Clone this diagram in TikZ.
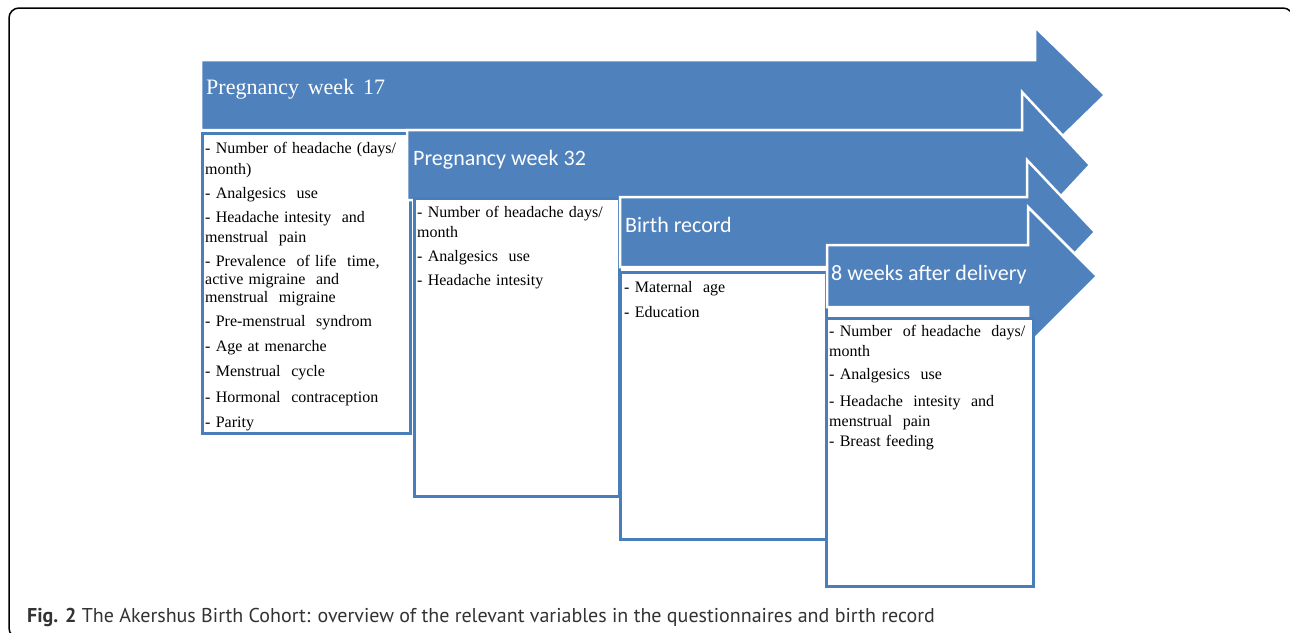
\documentclass[tikz,border=0pt]{standalone}
\usepackage{fontspec}
\setmainfont{Liberation Serif}
\newfontfamily\titlefont{Carlito}
\newfontfamily\capfont{PT Sans}
\definecolor{arrowblue}{HTML}{4F81BD}
\definecolor{boxblue}{HTML}{4A7EBB}
\definecolor{captext}{HTML}{333333}
\newcommand\myitemfont{\fontsize{16}{19}\selectfont\spaceskip=0.33em plus 0.1em\relax}
\newcommand\myserifttl{\fontsize{22}{26}\selectfont\spaceskip=0.4em\relax}
\tikzset{
  arrowshape/.style={fill=arrowblue, draw=white, line width=2.5pt, line join=miter},
  box/.style={draw=boxblue, line width=3pt, fill=white, anchor=north west, inner sep=0pt},
  item/.style={anchor=base west, inner sep=0pt, font=\myitemfont},
  ttl/.style={anchor=base west, inner sep=0pt, text=white, font=\titlefont\fontsize{22}{26}\selectfont},
  ttlserif/.style={anchor=base west, inner sep=0pt, text=white, font=\myserifttl},
  frame/.style={draw=black, line width=1.5pt, rounded corners=10pt},
}
\begin{document}
\begin{tikzpicture}[x=1pt,y=-1pt]
\useasboundingbox (0,0) rectangle (1290,632);
\clip (0,0) rectangle (1290,632);
\fill[white] (0,0) rectangle (1290,632);
\draw[frame] (9,8) rectangle (1293,638);

% arrow 1
\draw[arrowshape] (201,60) -- (1035,60) -- (1035,27) -- (1105,95) -- (1035,163) -- (1035,130) -- (201,130) -- cycle;
\node[ttlserif] (a1) at (206,94) {Pregnancy week 17};
\node[box, minimum width=208pt, minimum height=300pt] (b1) at (201,132) {};
\node[item] (t1a) at (205,153) {- Number of headache (days/};
\node[item] (t1b) at (205,174) {month)};
\node[item] (t1c) at (205,198) {- Analgesics \ use};
\node[item] (t1d) at (205,222) {- Headache intesity \ and};
\node[item] (t1e) at (205,242) {menstrual \ pain};
\node[item] (t1f) at (205,266) {- Prevalence \ of life \ time,};
\node[item] (t1g) at (205,284) {active migraine \ and};
\node[item] (t1h) at (205,302) {menstrual \ migraine};
\node[item] (t1i) at (205,326) {- Pre-menstrual \ syndrom};
\node[item] (t1j) at (205,351) {- Age at menarche};
\node[item] (t1k) at (205,376) {- Menstrual \ cycle};
\node[item] (t1l) at (205,402) {- Hormonal \ contraception};
\node[item] (t1m) at (205,427) {- Parity};

% arrow 2
\draw[arrowshape] (407,130) -- (1022,130) -- (1022,92) -- (1090,165) -- (1022,238) -- (1022,200) -- (407,200) -- cycle;
\node[ttl] (a2) at (413,165) {Pregnancy week 32};
\node[box, minimum width=205pt, minimum height=298pt] (b2) at (413,197) {};
\node[item] (t2a) at (417,217) {- Number of headache days/};
\node[item] (t2b) at (417,237) {month};
\node[item] (t2c) at (417,261) {- Analgesics \ use};
\node[item] (t2d) at (417,285) {- Headache intesity};

% arrow 3
\draw[arrowshape] (620,197) -- (1027,197) -- (1027,160) -- (1095,232) -- (1027,304) -- (1027,267) -- (620,267) -- cycle;
\node[ttl] (a3) at (625,232) {Birth record};
\node[box, minimum width=206pt, minimum height=267pt] (b3) at (619,271) {};
\node[item] (t3a) at (624,292) {- Maternal \ age};
\node[item] (t3b) at (624,317) {- Education};

% arrow 4
\draw[arrowshape] (827,245) -- (1028,245) -- (1028,207) -- (1097,276) -- (1028,345) -- (1028,307) -- (827,307) -- cycle;
\node[ttl] (a4) at (831,280) {8 weeks after delivery};
\node[box, minimum width=207pt, minimum height=268pt] (b4) at (825,317) {};
\node[item] (t4a) at (829,336) {- Number \ of headache \ days/};
\node[item] (t4b) at (829,356) {month};
\node[item] (t4c) at (829,379) {- Analgesics \ use};
\node[item] (t4d) at (829,406) {- Headache \ intesity \ and};
\node[item] (t4e) at (829,426) {menstrual \ pain};
\node[item] (t4f) at (829,446) {- Breast feeding};

% caption
\node[anchor=base west, inner sep=0pt, text=captext, font=\capfont\fontsize{20}{24}\selectfont] (cap) at (27,622) {\textbf{Fig. 2} The Akershus Birth Cohort: overview of the relevant variables in the questionnaires and birth record};
\end{tikzpicture}
\end{document}
